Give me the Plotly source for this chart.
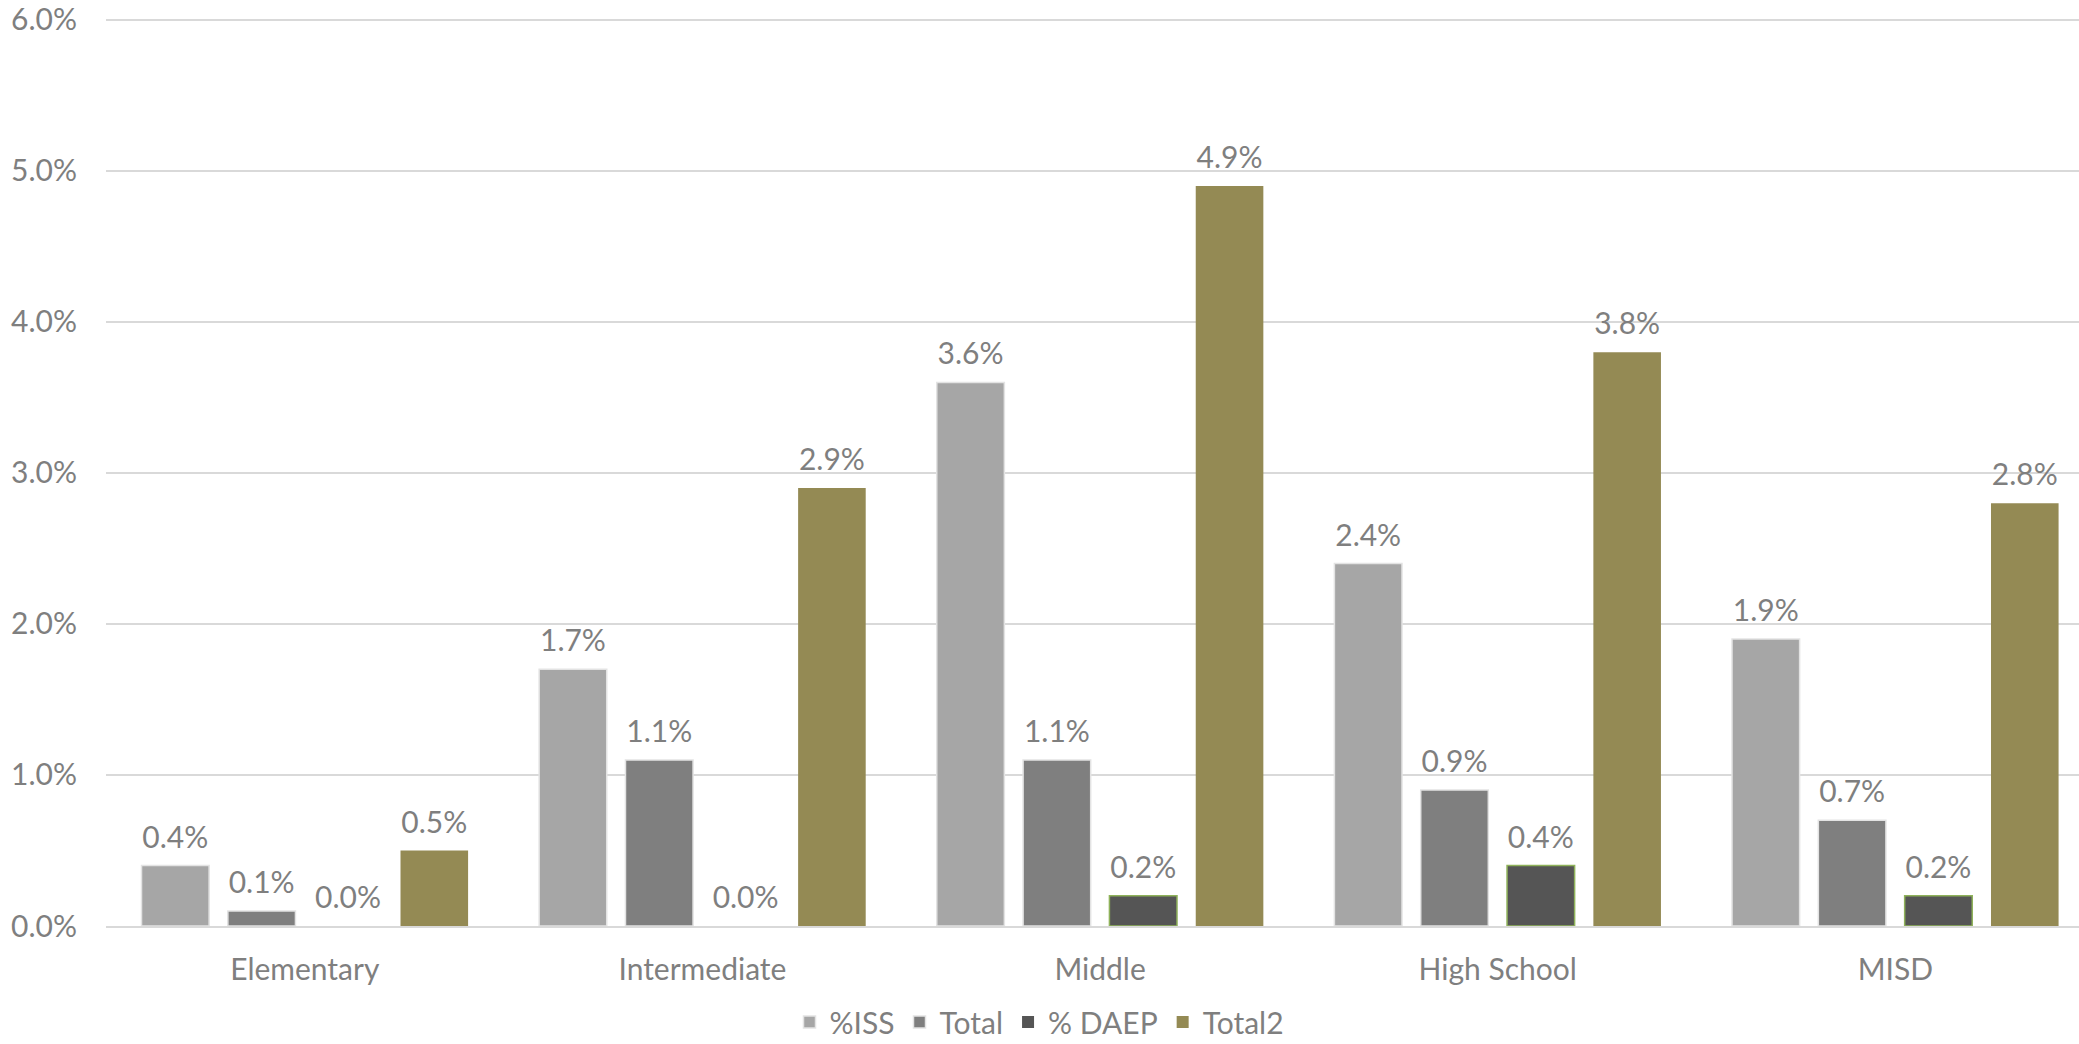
import plotly.graph_objects as go

categories = ["Elementary", "Intermediate", "Middle", "High School", "MISD"]
iss = [0.004, 0.017, 0.036, 0.024, 0.019]
total = [0.001, 0.011, 0.011, 0.009, 0.007]
daep = [0.000, 0.000, 0.002, 0.004, 0.002]
total2 = [0.005, 0.029, 0.049, 0.038, 0.028]
y_ticks = [0, 0.01, 0.02, 0.03, 0.04, 0.05, 0.06]

FONT = "Lato, 'Open Sans', sans-serif"
FS = 30
TXT = "#7f7f7f"

series = [
    ("%ISS", iss, "#a6a6a6", "#e3e3e3", 1.5),
    ("Total", total, "#7f7f7f", "#e3e3e3", 1.5),
    ("% DAEP", daep, "#555555", "#8fb25a", 1.5),
    ("Total2", total2, "#948a54", "#948a54", 0),
]

fig = go.Figure()
for name, vals, col, lcol, lw in series:
    labels = [f"<span style='font-size:{FS}px'>{v*100:.1f}%</span><br> " for v in vals]
    widths = [lw if v > 0 else 0 for v in vals]
    fig.add_trace(go.Bar(
        name=name, x=categories, y=vals,
        marker=dict(color=col, line=dict(color=lcol, width=widths)),
        text=labels, textposition="outside", constraintext="none",
        textfont=dict(size=10, color=TXT, family=FONT),
        cliponaxis=False,
    ))

fig.update_layout(
    width=2079, height=1044,
    margin=dict(l=106, r=0, t=18, b=118, autoexpand=False),
    barmode="group", bargap=0.1316, bargroupgap=0.217,
    plot_bgcolor="white", paper_bgcolor="white",
    font=dict(family=FONT, size=FS, color=TXT),
    showlegend=True,
    legend=dict(orientation="h", x=0.5, xanchor="center", xref="container",
                y=22/1044, yanchor="middle", yref="container", itemwidth=30,
                font=dict(size=30, color=TXT, family=FONT), itemclick=False),
    xaxis=dict(range=[-0.5, 4.462], showgrid=False, showline=True, linecolor="#d9d9d9",
               linewidth=1.5, ticks="", ticklabelstandoff=16, automargin=False,
               tickfont=dict(size=FS, color=TXT, family=FONT)),
    yaxis=dict(range=[0, 0.06013], tickvals=y_ticks, tickformat=".1%", showgrid=True,
               gridcolor="#d9d9d9", gridwidth=1.5, zeroline=False, showline=False,
               ticks="", ticklabelstandoff=28, automargin=False,
               tickfont=dict(size=FS, color=TXT, family=FONT)),
)

fig.write_html("out.html", config={"displayModeBar": False},
               post_script="document.body.style.margin='0';document.body.style.overflow='hidden';")
